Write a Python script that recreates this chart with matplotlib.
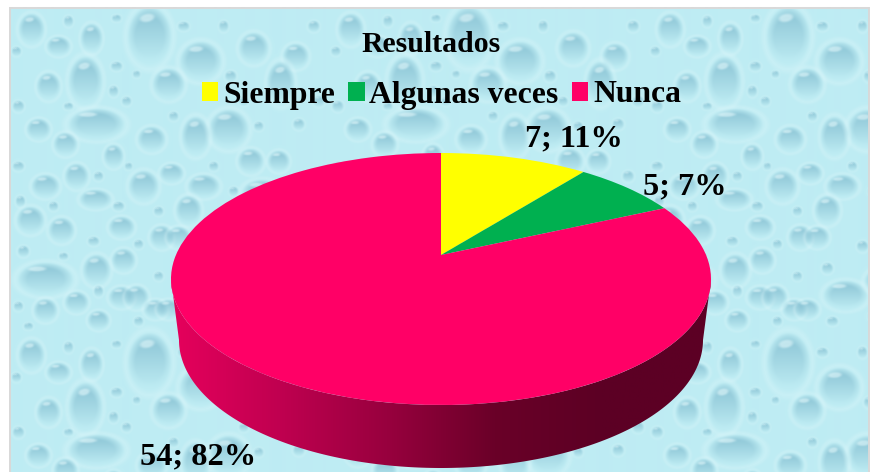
import numpy as np
import matplotlib
matplotlib.use('Agg')
import matplotlib.pyplot as plt
from matplotlib.colors import LinearSegmentedColormap
from matplotlib.patches import Polygon
from matplotlib.transforms import Transform

W, H = 871, 472

title = 'Resultados'
categories = ['Siempre', 'Algunas veces', 'Nunca']
values = [7, 5, 54]
percents = [11, 7, 82]
colors = ['#ffff00', '#00b050', '#ff0066']
side_stops = ['#e6005c', '#c00050', '#98003e', '#6a0028', '#5c0024', '#5c0024']

# drops of the background picture, x, y, rx, ry inside one tile
drops = [(141,30,22,30),(192,55,21,20),(77,75,17,25),(88,118,28,16),(160,78,16,16),(40,80,12,14),
	(23,23,13,16),(50,40,12,10),(83,32,11,15),(245,42,15,16),(287,50,13,13),(272,77,14,22),
	(220,123,20,20),(187,130,14,20),(143,133,14,13),(57,138,12,12),(30,123,12,11),(105,150,10,12),
	(68,170,12,13),(37,180,14,12),(135,180,15,16),(163,167,12,10),(195,180,16,12),(242,155,13,13),
	(270,155,11,11),(253,187,20,14),(87,193,16,10),(22,214,14,14),(53,224,13,13),(113,221,13,11),
	(153,231,12,12),(115,254,12,12),(88,264,14,16),(37,273,28,17),(113,291,13,11),(68,296,12,11),
	(37,304,12,12),(147,303,12,10),(90,314,11,10),(180,204,13,15),(170,231,12,11),(198,289,22,15),
	(160,303,12,10),(128,291,12,12),(240,230,14,16),(280,215,15,13),(235,275,18,14),(290,290,22,13),
	(260,310,12,10),(300,250,12,12)]
# little bubbles between the drops
small_drops = [(8,45,5,5),(60,15,5,6),(108,12,5,4),(108,60,6,5),(118,95,5,5),(10,100,6,6),(60,100,5,4),
	(128,68,4,4),(105,85,5,6),(175,20,6,5),(215,20,5,6),(222,70,6,6),(235,95,5,5),(305,20,6,6),(310,95,6,6),
	(250,120,5,5),(290,118,6,6),(10,160,6,5),(90,170,5,5),(120,160,4,4),(165,110,5,5),(205,160,5,5),
	(225,185,5,5),(300,170,6,6),(12,195,5,6),(45,200,5,5),(110,200,6,5),(150,205,5,5),(85,235,6,5),
	(130,238,5,5),(15,245,6,6),(55,250,5,4),(150,270,5,5),(180,262,6,6),(215,240,6,6),(10,300,5,5),
	(90,285,5,6),(185,315,6,5),(225,310,5,5),(20,320,5,4),(130,315,5,5),(285,320,5,5)]


def make_tile(tw, th):
	yy, xx = np.mgrid[0:th, 0:tw]
	img = np.ones((th, tw, 3)) * np.array([190, 236, 243]) / 255
	dark = np.array([134, 192, 210]) / 255
	light = np.array([226, 248, 251]) / 255
	for x, y, rx, ry in drops + small_drops:
		# the tile repeats, so wrap round the edges
		dx = (xx - x + tw / 2) % tw - tw / 2
		dy = (yy - y + th / 2) % th - th / 2
		d = np.sqrt((dx / rx) ** 2 + (dy / ry) ** 2)
		rim = np.clip(1 - np.abs(d - 1.1) / 0.2, 0, 1)[..., None] * 0.3
		img = img * (1 - rim) + light * rim
		# shade, dark at the top of the drop and fading down
		t = np.clip(0.95 - (dy + ry) / (2.0 * ry), 0, 1)
		a = (np.clip((1 - d) / 0.35, 0, 1) * t)[..., None]
		img = img * (1 - a) + dark * a
		# small shine up left
		h = np.sqrt(((dx + rx * 0.45 + 0.4 * dy) / (rx * 0.32)) ** 2 + ((dy + ry * 0.62) / (ry * 0.14)) ** 2)
		s = np.clip((1.2 - h) / 0.5, 0, 1)[..., None] * 0.6
		img = img * (1 - s) + light * s
	# soften a little, the original is a blurry jpeg
	out = img.copy()
	for sx, sy in [(1, 0), (-1, 0), (0, 1), (0, -1)]:
		out = out + np.roll(np.roll(img, sx, axis=1), sy, axis=0)
	return out / 5


class Tilt(Transform):
	# perspective of the top face: circle stays a circle, centre moves back
	input_dims = 2
	output_dims = 2
	is_separable = False
	has_inverse = False
	k = 24 / 126

	def transform_non_affine(self, xy):
		xy = np.asarray(xy, dtype=float)
		den = 1 + self.k * xy[:, 1]
		return np.column_stack((xy[:, 0] * np.sqrt(1 - self.k ** 2) / den, (xy[:, 1] + self.k) / den))


fig = plt.figure(figsize=(W / 100, H / 100), dpi=100, facecolor='white')
plt.rcParams['font.family'] = ['Liberation Serif', 'DejaVu Serif']

# background
bg = fig.add_axes([0, 0, 1, 1])
tile = make_tile(319, 326)
page = np.ones((H, W, 3))
page[7:, 9:869] = np.array([217, 217, 217]) / 255
rows = (np.arange(H) - 9 + 3) % 326
cols = (np.arange(W) - 11 + 3) % 319
page[9:, 11:867] = tile[np.ix_(rows[9:], cols[11:867])]
bg.imshow(page, aspect='auto', interpolation='bilinear')
bg.axis('off')

# pie, the axes runs from the top of the pie to the bottom of the figure
ax = fig.add_axes([171 / W, 0, 540 / W, (H - 153) / H])
wedges, _ = ax.pie(values, colors=colors, startangle=90, counterclock=False, radius=1)
tilt = Tilt()
for w in wedges:
	w.set_transform(tilt + ax.transData)
	w.set_zorder(3)
	w.set_linewidth(0)
ax.patch.set_alpha(0)

# side of the pie with gradient
t = np.linspace(np.pi, 2 * np.pi, 200)
top_edge = np.column_stack((np.cos(t), np.sin(t)))
low_edge = np.column_stack((262 / 270 * np.cos(t), (279 - 340) / 126 + 128 / 126 * np.sin(t)))[::-1]
side = Polygon(np.vstack((top_edge, low_edge)), closed=True, transform=ax.transData, facecolor='none', edgecolor='none')
ax.add_patch(side)
cmap = LinearSegmentedColormap.from_list('side', side_stops)
im = ax.imshow(np.linspace(0, 1, 256)[None, :], cmap=cmap, extent=(-1, 1, -1.53, 1), aspect='auto', zorder=2)
im.set_clip_path(side)
ax.set_aspect('auto')
ax.set_xlim(-1, 1)
ax.set_ylim((279 - H) / 126, 1)


def put(px, py, s, size):
	fig.text(px / W, 1 - py / H, s, fontsize=size, fontweight='bold', ha='center', va='baseline', color='black', zorder=10)


put(431.5, 52, title, 21.4)
put(573.5, 146, f'{values[0]}; {percents[0]}%', 23.3)
put(684.5, 194, f'{values[1]}; {percents[1]}%', 23.3)
put(198, 464, f'{values[2]}; {percents[2]}%', 23.3)

leg = fig.legend(wedges, categories, ncol=3, loc='center', bbox_to_anchor=(441.5 / W, 1 - 95 / H), frameon=False,
	prop={'size': 22.8, 'weight': 'bold'}, handlelength=0.52, handleheight=0.52, handletextpad=0.15,
	columnspacing=0.42, borderpad=0, borderaxespad=0)

fig.savefig('out.png', dpi=100)
